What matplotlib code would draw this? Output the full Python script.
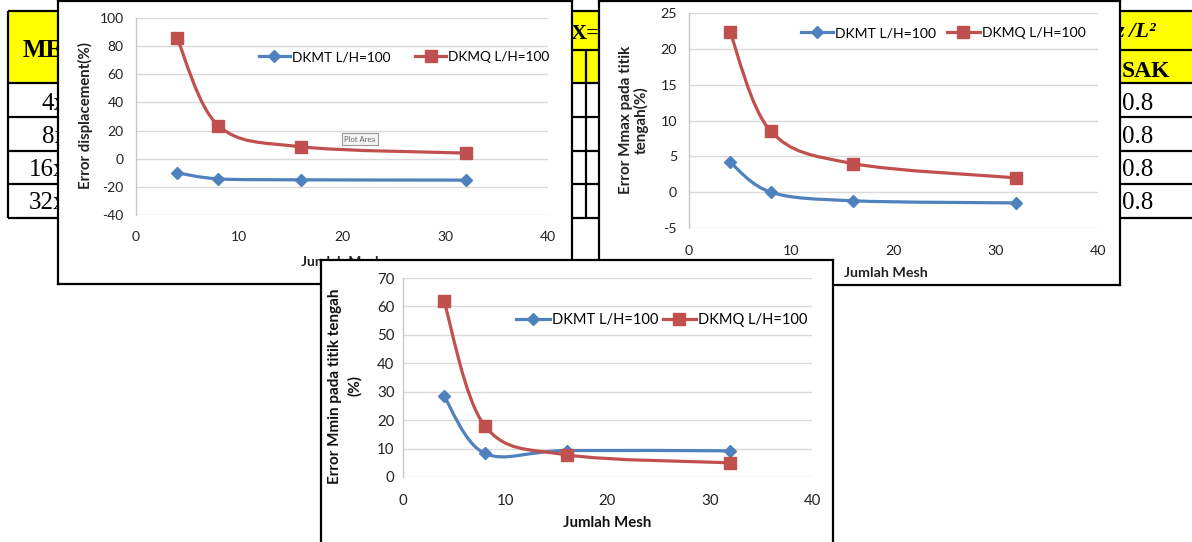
import matplotlib
matplotlib.use('Agg')
import matplotlib.pyplot as plt
from matplotlib.path import Path
from matplotlib.patches import PathPatch, Rectangle
from matplotlib.lines import Line2D

plt.rcParams['axes.unicode_minus'] = False

W, H = 1192, 542

# data
mesh = [4, 8, 16, 32]
disp_dkmt = [-10.0, -14.3, -15.0, -15.2]
disp_dkmq = [85.5, 23.5, 8.5, 4.0]
mmax_dkmt = [4.2, 0.0, -1.2, -1.5]
mmax_dkmq = [22.4, 8.5, 4.0, 2.0]
mmin_dkmt = [28.5, 8.3, 9.3, 9.2]
mmin_dkmq = [62.0, 18.0, 7.8, 5.0]

series_names = ['DKMT L/H=100', 'DKMQ L/H=100']
xticks = [0, 10, 20, 30, 40]
disp_yticks = [-40, -20, 0, 20, 40, 60, 80, 100]
mmax_yticks = [-5, 0, 5, 10, 15, 20, 25]
mmin_yticks = [0, 10, 20, 30, 40, 50, 60, 70]

# table behind the charts (only the visible bits of the cut-off cells)
table_rows = ['4x', '8x', '16x', '32x']
table_right = ['0.8', '0.8', '0.8', '0.8']

BLUE = '#4F81BD'
RED = '#C0504D'
SANS = 'Lato'
SERIF = 'Liberation Serif'


def fig_rect(x0, y0, x1, y1):
    return [x0 / W, 1 - y1 / H, (x1 - x0) / W, (y1 - y0) / H]


def smooth_path(xs, ys):
    # excel-like smoothed line: cubic bezier through the points
    pts = list(zip(xs, ys))
    n = len(pts)
    verts = [pts[0]]
    codes = [Path.MOVETO]
    for i in range(n - 1):
        p0 = pts[max(i - 1, 0)]
        p1 = pts[i]
        p2 = pts[i + 1]
        p3 = pts[min(i + 2, n - 1)]
        c1 = (p1[0] + (p2[0] - p0[0]) / 6, p1[1] + (p2[1] - p0[1]) / 6)
        c2 = (p2[0] - (p3[0] - p1[0]) / 6, p2[1] - (p3[1] - p1[1]) / 6)
        verts += [c1, c2, p2]
        codes += [Path.CURVE4] * 3
    return Path(verts, codes)


def px(ax, x, y, s, **kw):
    # text placed in figure pixels but owned by ax (so later charts cover it)
    return ax.text(x / W, 1 - y / H, s, transform=fig.transFigure, **kw)


fig = plt.figure(figsize=(W / 100, H / 100), dpi=100)

# ---- background table ----
bg = fig.add_axes([0, 0, 1, 1])
bg.set_xlim(0, W)
bg.set_ylim(H, 0)
bg.axis('off')
bg.add_patch(Rectangle((8, 11), W - 8, 72, facecolor='#ffff00', edgecolor='none'))
bg.hlines([11, 83, 117, 151, 184, 218], 8, W, color='black', lw=1.6)
bg.hlines(50, 300, W, color='black', lw=1.6)
bg.vlines(8, 11, 218, color='black', lw=1.6)
bg.vlines(586, 50, 218, color='black', lw=1.6)

bg.text(23, 57, 'ME', ha='left', va='baseline', fontsize=18,
        fontweight='bold', family=SERIF)
bg.text(571, 39, 'X=1', ha='left', va='baseline', fontsize=16,
        fontweight='bold', family=SERIF)
bg.text(1116, 37, 'z /L²', ha='left', va='baseline', fontsize=16,
        fontweight='bold', fontstyle='italic', family=SERIF)
bg.text(1122, 77, 'SAK', ha='left', va='baseline', fontsize=17,
        fontweight='bold', family=SERIF)
baselines = [110, 143, 176, 209]
row_left = [42, 42, 29, 29]
for i in range(len(table_rows)):
    bg.text(row_left[i], baselines[i], table_rows[i], ha='left', va='baseline',
            fontsize=18, family=SERIF)
    bg.text(1122, baselines[i], table_right[i], ha='left', va='baseline',
            fontsize=18, family=SERIF)


def draw_chart(frame, area, dkmt, dkmq, ylim, yticks, fs, ypad, xpad, legend_at, colsp, lfs):
    fr = fig.add_axes(fig_rect(*frame))
    fr.set_xticks([])
    fr.set_yticks([])
    fr.set_facecolor('white')
    for s in fr.spines.values():
        s.set_linewidth(1.6)
        s.set_color('black')

    ax = fig.add_axes(fig_rect(*area))
    ax.set_facecolor('none')
    ax.set_xlim(0, 40)
    ax.set_ylim(*ylim)
    ax.set_xticks(xticks)
    ax.set_yticks(yticks)
    ax.grid(axis='y', color='#d9d9d9', lw=1.0)
    ax.set_axisbelow(True)
    for side in ['top', 'right', 'bottom']:
        ax.spines[side].set_visible(False)
    ax.spines['left'].set_color('#c8c8c8')
    ax.spines['left'].set_linewidth(1.0)
    ax.tick_params(length=0, labelsize=fs, colors='#222222')
    ax.tick_params(axis='y', pad=ypad)
    ax.tick_params(axis='x', pad=xpad)
    for lab in ax.get_xticklabels() + ax.get_yticklabels():
        lab.set_family(SANS)

    ax.add_patch(PathPatch(smooth_path(mesh, dkmt), facecolor='none',
                           edgecolor=BLUE, lw=2.3, zorder=3))
    ax.add_patch(PathPatch(smooth_path(mesh, dkmq), facecolor='none',
                           edgecolor=RED, lw=2.3, zorder=3))
    ax.plot(mesh, dkmt, ls='none', marker='D', ms=6.5, color=BLUE, zorder=4, clip_on=False)
    ax.plot(mesh, dkmq, ls='none', marker='s', ms=9, color=RED, zorder=4, clip_on=False)

    handles = [Line2D([], [], color=BLUE, lw=2.3, marker='D', ms=6.5),
               Line2D([], [], color=RED, lw=2.3, marker='s', ms=9)]
    ax.legend(handles, series_names, loc='center', ncol=2, frameon=False,
              bbox_to_anchor=(legend_at[0] / W, 1 - legend_at[1] / H),
              bbox_transform=fig.transFigure, handlelength=2.3,
              handletextpad=0.15, columnspacing=colsp,
              prop={'family': SANS, 'size': lfs})
    return ax


# chart 1 : displacement
ax1 = draw_chart((58, 1, 572, 284), (136, 18, 548, 215), disp_dkmt, disp_dkmq,
                 (-40, 100), disp_yticks, 10, 9, 11.5, (404, 57), 1.8, 9.8)
px(ax1, 85, 116, 'Error displacement(%)', rotation=90, ha='center', va='center',
   fontsize=10.8, fontweight='bold', family=SANS, color='#222222')
px(ax1, 342, 262, 'Jumlah Mesh', ha='center', va='center',
   fontsize=10, fontweight='bold', family=SANS, color='#222222')
px(ax1, 360, 139, 'Plot Area', ha='center', va='center', fontsize=5.5,
   family=SANS, color='#666666',
   bbox=dict(boxstyle='square,pad=0.3', fc='#f4f4f4', ec='#9a9a9a', lw=0.8))

# chart 2 : Mmax
ax2 = draw_chart((599, 1, 1120, 285), (689, 13, 1098, 228), mmax_dkmt, mmax_dkmq,
                 (-5, 25), mmax_yticks, 10.3, 8.6, 12, (943, 33), 0.8, 10.1)
px(ax2, 634, 120, 'Error Mmax pada titik\ntengah(%)', rotation=90, ha='center',
   va='center', fontsize=11, fontweight='bold', family=SANS, color='#222222',
   linespacing=1.1)
px(ax2, 886, 273, 'Jumlah Mesh', ha='center', va='center',
   fontsize=10.3, fontweight='bold', family=SANS, color='#222222')

# chart 3 : Mmin
ax3 = draw_chart((321, 260, 833, 548), (403, 278, 812, 477), mmin_dkmt, mmin_dkmq,
                 (0, 70), mmin_yticks, 10.8, 6, 12, (662, 320), 0.3, 10.5)
px(ax3, 345, 386, 'Error Mmin pada titik tengah\n(%)', rotation=90, ha='center',
   va='center', fontsize=11, fontweight='bold', family=SANS, color='#111111',
   linespacing=1.5)
px(ax3, 607, 523, 'Jumlah Mesh', ha='center', va='center',
   fontsize=10.8, fontweight='bold', family=SANS, color='#111111')

fig.savefig('out.png', dpi=100)
